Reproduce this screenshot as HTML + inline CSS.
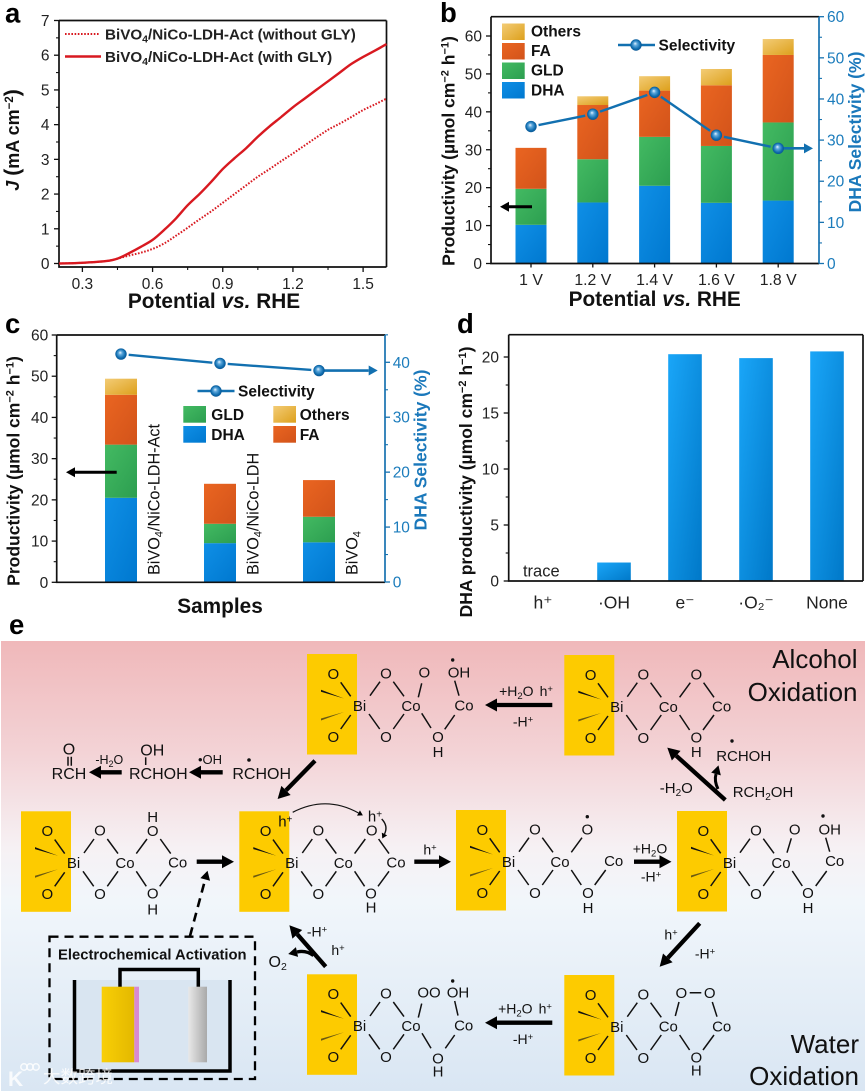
<!DOCTYPE html>
<html lang="en">
<head>
<meta charset="utf-8">
<title>BiVO4/NiCo-LDH figure</title>
<style>
html,body{margin:0;padding:0;background:#fff;}
svg{display:block;font-family:"Liberation Sans","Noto Sans CJK SC",sans-serif;}
.letter{font-size:27.5px;font-weight:700;fill:#000;}
.title{font-size:20.8px;font-weight:700;fill:#111;}
.ytitle{font-size:17.5px;font-weight:700;fill:#111;}
.rtitle{font-size:17.5px;font-weight:700;fill:#1a78bb;}
.leg{font-size:15.5px;font-weight:700;fill:#111;}
.atom{font-size:15px;fill:#111;text-anchor:middle;}
.lab{font-size:14px;fill:#111;text-anchor:middle;}
.big{font-size:16px;fill:#111;text-anchor:middle;}
.region{font-size:26px;fill:#111;text-anchor:end;}
.bond{stroke:#111;stroke-width:1.5;fill:none;}
.arrow{stroke:#000;stroke-width:4.3;fill:none;}
.yel{fill:#fdcb00;}
.dot{fill:#111;}
</style>
</head>
<body>
<svg id="figure" xmlns="http://www.w3.org/2000/svg" width="866" height="1092" viewBox="0 0 866 1092">
<defs>
<marker id="head" markerUnits="userSpaceOnUse" orient="auto" markerWidth="12" markerHeight="13" refX="0" refY="6.5" overflow="visible"><path d="M0 0L12 6.5L0 13z" fill="#000"/></marker>
<marker id="headS" markerUnits="userSpaceOnUse" orient="auto" markerWidth="9" markerHeight="10" refX="0" refY="5" overflow="visible"><path d="M0 0L9 5L0 10z" fill="#000"/></marker>
<marker id="headT" markerUnits="userSpaceOnUse" orient="auto" markerWidth="5" markerHeight="6" refX="0" refY="3" overflow="visible"><path d="M0 0L5 3L0 6z" fill="#000"/></marker>
<marker id="headB" markerUnits="userSpaceOnUse" orient="auto" markerWidth="9" markerHeight="10" refX="0" refY="5" overflow="visible"><path d="M0 0L9 5L0 10z" fill="#1270b0"/></marker>
<linearGradient id="gDHA" x1="0" y1="0" x2="1" y2="1"><stop offset="0" stop-color="#0f8fe6"/><stop offset="1" stop-color="#0078cf"/></linearGradient>
<linearGradient id="gGLD" x1="0" y1="0" x2="1" y2="1"><stop offset="0" stop-color="#43ba62"/><stop offset="1" stop-color="#2c9e50"/></linearGradient>
<linearGradient id="gFA" x1="0" y1="0" x2="1" y2="1"><stop offset="0" stop-color="#ea6521"/><stop offset="1" stop-color="#d2531a"/></linearGradient>
<linearGradient id="gOT" x1="0" y1="0" x2="1" y2="1"><stop offset="0" stop-color="#f3cc76"/><stop offset="1" stop-color="#dda01c"/></linearGradient>
<linearGradient id="gD" x1="0" y1="0" x2="1" y2="1"><stop offset="0" stop-color="#1aa6f8"/><stop offset="1" stop-color="#0078c8"/></linearGradient>
<radialGradient id="gBall" cx="0.5" cy="0.5" r="0.55" fx="0.42" fy="0.36"><stop offset="0" stop-color="#e8f4ff"/><stop offset="0.3" stop-color="#5da8dc"/><stop offset="0.72" stop-color="#0e6cae"/><stop offset="1" stop-color="#0a4f8a"/></radialGradient>
<linearGradient id="gBg" x1="0" y1="0" x2="0" y2="1"><stop offset="0" stop-color="#f0b8ba"/><stop offset="0.25" stop-color="#f3d3d6"/><stop offset="0.46" stop-color="#f6f1f4"/><stop offset="0.58" stop-color="#f1f6fb"/><stop offset="1" stop-color="#d9e6f3"/></linearGradient>
<linearGradient id="gYel" x1="0" y1="0" x2="1" y2="0"><stop offset="0" stop-color="#f9cf06"/><stop offset="1" stop-color="#e3b800"/></linearGradient>
<linearGradient id="gGrey" x1="0" y1="0" x2="1" y2="0"><stop offset="0" stop-color="#e8e8e8"/><stop offset="1" stop-color="#a9a9a9"/></linearGradient>
</defs>

<!-- Panel letters -->
<text class="letter" x="5" y="22.5">a</text>
<text class="letter" x="440" y="22">b</text>
<text class="letter" x="5" y="333">c</text>
<text class="letter" x="457" y="333">d</text>
<text class="letter" x="9" y="634">e</text>

<!-- Panel a static -->
<g id="panelA"></g>
<g>
<line x1="65" y1="34" x2="99" y2="34" stroke="#d81920" stroke-width="2" stroke-dasharray="1.6 1.6"/>
<text x="105" y="39.5" font-size="15.2" font-weight="700" fill="#222">BiVO<tspan dy="3" font-size="10.5">4</tspan><tspan dy="-3">/NiCo-LDH-Act (without GLY)</tspan></text>
<line x1="65" y1="56.5" x2="101" y2="56.5" stroke="#d81920" stroke-width="2.6"/>
<text x="105" y="62" font-size="15.2" font-weight="700" fill="#222">BiVO<tspan dy="3" font-size="10.5">4</tspan><tspan dy="-3">/NiCo-LDH-Act (with GLY)</tspan></text>
</g>
<text class="title" x="214" y="308" text-anchor="middle">Potential <tspan font-style="italic">vs.</tspan> RHE</text>
<text class="ytitle" transform="translate(19,140) rotate(-90)" text-anchor="middle" style="font-size:18px"><tspan font-style="italic">J</tspan> <tspan style="font-size:21px">(</tspan>mA cm<tspan dy="-6" style="font-size:11.5px">−2</tspan><tspan dy="6" style="font-size:21px">)</tspan></text>

<!-- Panel b static -->
<g id="panelB"></g>
<g>
<rect x="502" y="23.5" width="22.7" height="16.5" fill="url(#gOT)"/>
<text class="leg" x="531" y="36.5">Others</text>
<rect x="502" y="43" width="22.7" height="16.5" fill="url(#gFA)"/>
<text class="leg" x="531" y="56">FA</text>
<rect x="502" y="62.5" width="22.7" height="16.5" fill="url(#gGLD)"/>
<text class="leg" x="531" y="75.5">GLD</text>
<rect x="502" y="82" width="22.7" height="16.5" fill="url(#gDHA)"/>
<text class="leg" x="531" y="95.5">DHA</text>
<line x1="618" y1="45" x2="655" y2="45" stroke="#1270b0" stroke-width="2.4"/>
<circle cx="636" cy="45" r="5.7" fill="url(#gBall)"/>
<text class="leg" x="658.5" y="50.5">Selectivity</text>
</g>
<line x1="532" y1="206.7" x2="509" y2="206.7" stroke="#000" stroke-width="3" marker-end="url(#headS)"/>
<text class="title" x="654.7" y="306" text-anchor="middle">Potential <tspan font-style="italic">vs.</tspan> RHE</text>
<text class="ytitle" transform="translate(454.5,151) rotate(-90)" text-anchor="middle">Productivity (µmol cm<tspan dy="-6" style="font-size:11px">−2</tspan><tspan dy="6"> h</tspan><tspan dy="-6" style="font-size:11px">−1</tspan><tspan dy="6">)</tspan></text>
<text class="rtitle" transform="translate(861,132) rotate(-90)" text-anchor="middle">DHA Selectivity (%)</text>

<!-- Panel c static -->
<g id="panelC"></g>
<g>
<line x1="197.5" y1="391" x2="234.5" y2="391" stroke="#1270b0" stroke-width="2.4"/>
<circle cx="216" cy="391" r="5.7" fill="url(#gBall)"/>
<text class="leg" x="238" y="396.5">Selectivity</text>
<rect x="183.3" y="406" width="22.7" height="16.7" fill="url(#gGLD)"/>
<text class="leg" x="211.3" y="420">GLD</text>
<rect x="183.3" y="426" width="22.7" height="16.7" fill="url(#gDHA)"/>
<text class="leg" x="211.3" y="440">DHA</text>
<rect x="273.3" y="406" width="22.7" height="16.7" fill="url(#gOT)"/>
<text class="leg" x="299.7" y="420">Others</text>
<rect x="273.3" y="426" width="22.7" height="16.7" fill="url(#gFA)"/>
<text class="leg" x="299.7" y="440">FA</text>
</g>
<line x1="116.7" y1="472.3" x2="75" y2="472.3" stroke="#000" stroke-width="3" marker-end="url(#headS)"/>
<text class="title" x="220" y="613" text-anchor="middle">Samples</text>
<text class="ytitle" transform="translate(19.5,471) rotate(-90)" text-anchor="middle">Productivity (µmol cm<tspan dy="-6" style="font-size:11px">−2</tspan><tspan dy="6"> h</tspan><tspan dy="-6" style="font-size:11px">−1</tspan><tspan dy="6">)</tspan></text>
<text class="rtitle" transform="translate(426.5,450) rotate(-90)" text-anchor="middle">DHA Selectivity (%)</text>

<!-- Panel d static -->
<g id="panelD"></g>
<text class="ytitle" transform="translate(472,482) rotate(-90)" text-anchor="middle">DHA productivity (µmol cm<tspan dy="-6" style="font-size:11px">−2</tspan><tspan dy="6"> h</tspan><tspan dy="-6" style="font-size:11px">−1</tspan><tspan dy="6">)</tspan></text>

<!-- Panel e: mechanism scheme -->
<g>
<rect x="1" y="641" width="864" height="450" fill="url(#gBg)"/>
<text class="region" x="857.5" y="668">Alcohol</text>
<text class="region" x="857.5" y="701">Oxidation</text>
<text class="region" x="859" y="1053">Water</text>
<text class="region" x="859" y="1085">Oxidation</text>

<!-- Molecule A -->
<g transform="translate(307,654)">
<rect class="yel" x="0" y="0" width="50" height="100.5"/>
<path class="bond" d="M33.7 28.3L43.7 42.3M43.7 61L33.7 75M63 41.7L73 27.7M86.3 27.7L97 42.3M62 60L72.7 75M86.3 75L97 60M111.3 43.3L114.7 29.3M147.7 26.7L152 41.7M114.7 59.3L124 74M137.7 75.3L147.7 61"/>
<polygon points="14,35.8 14,37.8 37,44.5" fill="#111"/><polygon points="14,64.5 14,66.5 37,58" fill="#6b5a12"/>
<text class="atom" x="26.3" y="24.9">O</text><text class="atom" x="26.3" y="87.9">O</text><text class="atom" x="52.5" y="56.9">Bi</text><text class="atom" x="79" y="24.4">O</text><text class="atom" x="79" y="87.9">O</text><text class="atom" x="104" y="56.9">Co</text><text class="atom" x="117.3" y="23.7">O</text><text class="atom" x="152" y="23.7">OH</text><circle class="dot" cx="145.7" cy="6" r="1.7"/><text class="atom" x="157" y="56.4">Co</text><text class="atom" x="131" y="88.1">O</text><text class="atom" x="131" y="103.1">H</text>
</g>

<!-- Molecule B -->
<g transform="translate(564.3,655)">
<rect class="yel" x="0" y="0" width="50" height="100.5"/>
<path class="bond" d="M33.7 28.3L43.7 42.3M43.7 61L33.7 75M63 41.7L73 27.7M86.3 27.7L97 42.3M62 60L72.7 75M86.3 75L97 60M115.3 42.3L126 27.7M139.3 27.7L149.7 42.3M115.3 60L125.3 75M138.7 75L149.7 60"/>
<polygon points="14,35.8 14,37.8 37,44.5" fill="#111"/><polygon points="14,64.5 14,66.5 37,58" fill="#6b5a12"/>
<text class="atom" x="26.3" y="24.9">O</text><text class="atom" x="26.3" y="87.9">O</text><text class="atom" x="52.5" y="56.9">Bi</text><text class="atom" x="79" y="24.4">O</text><text class="atom" x="79" y="87.9">O</text><text class="atom" x="104" y="56.9">Co</text><text class="atom" x="132" y="24.4">O</text><text class="atom" x="157.3" y="56.4">Co</text><text class="atom" x="132" y="87.7">O</text><text class="atom" x="132" y="102.1">H</text>
</g>

<!-- Molecule C -->
<g transform="translate(21,811.3)">
<rect class="yel" x="0" y="0" width="50" height="100.5"/>
<path class="bond" d="M33.7 28.3L43.7 42.3M43.7 61L33.7 75M63 41.7L73 27.7M86.3 27.7L97 42.3M62 60L72.7 75M86.3 75L97 60M115.3 42.3L126 27.7M139.3 27.7L149.7 42.3M115.3 60L125.3 75M138.7 75L149.7 60"/>
<polygon points="14,35.8 14,37.8 37,44.5" fill="#111"/><polygon points="14,64.5 14,66.5 37,58" fill="#6b5a12"/>
<text class="atom" x="26.3" y="24.9">O</text><text class="atom" x="26.3" y="87.9">O</text><text class="atom" x="52.5" y="56.9">Bi</text><text class="atom" x="79" y="24.4">O</text><text class="atom" x="79" y="87.9">O</text><text class="atom" x="104" y="56.9">Co</text><text class="atom" x="131.7" y="10.8">H</text><text class="atom" x="131.7" y="24.8">O</text><text class="atom" x="156.7" y="56.1">Co</text><text class="atom" x="131.7" y="87.4">O</text><text class="atom" x="131.7" y="103.1">H</text>
</g>

<!-- Molecule D -->
<g transform="translate(239.3,811.3)">
<rect class="yel" x="0" y="0" width="50" height="100.5"/>
<path class="bond" d="M33.7 28.3L43.7 42.3M43.7 61L33.7 75M63 41.7L73 27.7M86.3 27.7L97 42.3M62 60L72.7 75M86.3 75L97 60M115.3 42.3L126 27.7M139.3 27.7L149.7 42.3M115.3 60L125.3 75M138.7 75L149.7 60"/>
<polygon points="14,35.8 14,37.8 37,44.5" fill="#111"/><polygon points="14,64.5 14,66.5 37,58" fill="#6b5a12"/>
<text class="atom" x="26.3" y="24.9">O</text><text class="atom" x="26.3" y="87.9">O</text><text class="atom" x="52.5" y="56.9">Bi</text><text class="atom" x="79" y="24.4">O</text><text class="atom" x="79" y="87.9">O</text><text class="atom" x="104" y="56.9">Co</text><text class="atom" x="132.4" y="24.1">O</text><text class="atom" x="156.7" y="56.1">Co</text><text class="atom" x="131.7" y="87.4">O</text><text class="atom" x="131.7" y="101.4">H</text>
<text class="lab" x="46" y="15" style="font-size:15px">h<tspan dy="-4" style="font-size:10px">+</tspan></text>
<text class="lab" x="135.7" y="10" style="font-size:15px">h<tspan dy="-4" style="font-size:10px">+</tspan></text>
</g>
<path d="M292.7 812.3Q326 795 358.5 813" fill="none" stroke="#111" stroke-width="1.2" marker-end="url(#headT)"/>
<path d="M381.7 819Q388.5 826 384.5 834" fill="none" stroke="#111" stroke-width="1.4" marker-end="url(#headT)"/>

<!-- Molecule E -->
<g transform="translate(456,810)">
<rect class="yel" x="0" y="0" width="50" height="100.5"/>
<path class="bond" d="M33.7 28.3L43.7 42.3M43.7 61L33.7 75M63 41.7L73 27.7M86.3 27.7L97 42.3M62 60L72.7 75M86.3 75L97 60M115.3 42.3L126 27.7M115.3 60L125.3 75M138.7 75L149.7 60"/>
<polygon points="14,35.8 14,37.8 37,44.5" fill="#111"/><polygon points="14,64.5 14,66.5 37,58" fill="#6b5a12"/>
<text class="atom" x="26.3" y="24.9">O</text><text class="atom" x="26.3" y="87.9">O</text><text class="atom" x="52.5" y="56.9">Bi</text><text class="atom" x="79" y="24.4">O</text><text class="atom" x="79" y="87.9">O</text><text class="atom" x="104" y="56.9">Co</text><text class="atom" x="131.3" y="24.7">O</text><circle class="dot" cx="131.3" cy="6.7" r="1.7"/><text class="atom" x="157.7" y="56.1">Co</text><text class="atom" x="132" y="88.1">O</text><text class="atom" x="132" y="103.1">H</text>
</g>

<!-- Molecule F -->
<g transform="translate(677,811)">
<rect class="yel" x="0" y="0" width="50" height="100.5"/>
<path class="bond" d="M33.7 28.3L43.7 42.3M43.7 61L33.7 75M63 41.7L73 27.7M86.3 27.7L97 42.3M62 60L72.7 75M86.3 75L97 60M110 41.7L114.3 27.3M148.7 26.7L152.7 40.7M115.3 60L125.3 75M138.7 75L149.7 60"/>
<polygon points="14,35.8 14,37.8 37,44.5" fill="#111"/><polygon points="14,64.5 14,66.5 37,58" fill="#6b5a12"/>
<text class="atom" x="26.3" y="24.9">O</text><text class="atom" x="26.3" y="87.9">O</text><text class="atom" x="52.5" y="56.9">Bi</text><text class="atom" x="79" y="24.4">O</text><text class="atom" x="79" y="87.9">O</text><text class="atom" x="104" y="56.9">Co</text><text class="atom" x="117.7" y="23.4">O</text><text class="atom" x="152.7" y="23.4">OH</text><circle class="dot" cx="146" cy="5" r="1.7"/><text class="atom" x="157.7" y="55.1">Co</text><text class="atom" x="131" y="87.1">O</text><text class="atom" x="131" y="102.1">H</text>
</g>

<!-- Molecule G -->
<g transform="translate(307,974.3)">
<rect class="yel" x="0" y="0" width="50" height="100.5"/>
<path class="bond" d="M33.7 28.3L43.7 42.3M43.7 61L33.7 75M63 41.7L73 27.7M86.3 27.7L97 42.3M62 60L72.7 75M86.3 75L97 60M111.3 43.3L114.7 29.3M147.7 26.7L151 41.3M115 59L124 74M138.3 74L147.7 60.7"/>
<polygon points="14,35.8 14,37.8 37,44.5" fill="#111"/><polygon points="14,64.5 14,66.5 37,58" fill="#6b5a12"/>
<text class="atom" x="26.3" y="24.9">O</text><text class="atom" x="26.3" y="87.9">O</text><text class="atom" x="52.5" y="56.9">Bi</text><text class="atom" x="79" y="24.4">O</text><text class="atom" x="79" y="87.9">O</text><text class="atom" x="104" y="56.9">Co</text><text class="atom" x="122" y="23.4">OO</text><text class="atom" x="151" y="23.4">OH</text><circle class="dot" cx="145.7" cy="6.7" r="1.7"/><text class="atom" x="156.7" y="56.1">Co</text><text class="atom" x="131" y="89.4">O</text><text class="atom" x="131" y="102.1">H</text>
</g>

<!-- Molecule H -->
<g transform="translate(564.3,975)">
<rect class="yel" x="0" y="0" width="50" height="100.5"/>
<path class="bond" d="M33.7 28.3L43.7 42.3M43.7 61L33.7 75M63 41.7L73 27.7M86.3 27.7L97 42.3M62 60L72.7 75M86.3 75L97 60M111 41L114.7 27M125.4 17.7L137 17.7M148 27L152.7 41.7M115.3 60L125.3 75M138.7 75L149.7 60"/>
<polygon points="14,35.8 14,37.8 37,44.5" fill="#111"/><polygon points="14,64.5 14,66.5 37,58" fill="#6b5a12"/>
<text class="atom" x="26.3" y="24.9">O</text><text class="atom" x="26.3" y="87.9">O</text><text class="atom" x="52.5" y="56.9">Bi</text><text class="atom" x="79" y="24.4">O</text><text class="atom" x="79" y="87.9">O</text><text class="atom" x="104" y="56.4">Co</text><text class="atom" x="117" y="23.1">O</text><text class="atom" x="145.4" y="23.1">O</text><text class="atom" x="157.4" y="56.4">Co</text><text class="atom" x="132" y="87.7">O</text><text class="atom" x="132" y="100.4">H</text>
</g>

<!-- Reaction arrows -->
<line class="arrow" x1="552.3" y1="705" x2="497" y2="705" marker-end="url(#head)"/>
<text class="lab" x="526" y="696">+H<tspan dy="3" style="font-size:9.5px">2</tspan><tspan dy="-3">O</tspan><tspan dx="6">h</tspan><tspan dy="-4" style="font-size:9.5px">+</tspan></text>
<text class="lab" x="523" y="726.5">-H<tspan dy="-4" style="font-size:9.5px">+</tspan></text>
<line class="arrow" x1="315" y1="760.7" x2="286" y2="790.4" marker-end="url(#head)"/>
<text class="big" x="261.7" y="779">RCHOH</text>
<circle class="dot" cx="249" cy="760" r="1.8"/>
<line class="arrow" x1="222.7" y1="772.3" x2="201" y2="772.3" marker-end="url(#head)"/>
<text class="lab" x="210" y="764" style="font-size:13px">•OH</text>
<text class="big" x="158.3" y="779">RCHOH</text>
<text class="big" x="152.3" y="755.5">OH</text>
<line class="bond" x1="145.7" y1="757.3" x2="145.7" y2="765"/>
<line class="arrow" x1="121.7" y1="772.3" x2="101" y2="772.3" marker-end="url(#head)"/>
<text class="lab" x="109.3" y="764" style="font-size:12.5px">-H<tspan dy="3" style="font-size:9px">2</tspan><tspan dy="-3">O</tspan></text>
<text class="big" x="69" y="779">RCH</text>
<text class="big" x="69" y="754.7">O</text>
<path class="bond" d="M68 756.7V765.7M71.3 756.7V765.7"/>

<line class="arrow" x1="196.7" y1="861.7" x2="222" y2="861.7" marker-end="url(#head)"/>
<line class="arrow" x1="414.3" y1="861.7" x2="439" y2="861.7" marker-end="url(#head)"/>
<text class="lab" x="430" y="854.5">h<tspan dy="-4" style="font-size:9.5px">+</tspan></text>
<line class="arrow" x1="634" y1="861.7" x2="659.5" y2="861.7" marker-end="url(#head)"/>
<text class="lab" x="650" y="853.5">+H<tspan dy="3" style="font-size:9.5px">2</tspan><tspan dy="-3">O</tspan></text>
<text class="lab" x="651" y="881.5">-H<tspan dy="-4" style="font-size:9.5px">+</tspan></text>
<line class="arrow" x1="699.7" y1="923.3" x2="667.8" y2="957.9" marker-end="url(#head)"/>
<text class="lab" x="671" y="939.5">h<tspan dy="-4" style="font-size:9.5px">+</tspan></text>
<text class="lab" x="705" y="958.5">-H<tspan dy="-4" style="font-size:9.5px">+</tspan></text>
<line class="arrow" x1="552.3" y1="1022.7" x2="497" y2="1022.7" marker-end="url(#head)"/>
<text class="lab" x="525" y="1013.5">+H<tspan dy="3" style="font-size:9.5px">2</tspan><tspan dy="-3">O</tspan><tspan dx="6">h</tspan><tspan dy="-4" style="font-size:9.5px">+</tspan></text>
<text class="lab" x="523" y="1044">-H<tspan dy="-4" style="font-size:9.5px">+</tspan></text>
<line class="arrow" x1="325.7" y1="966.7" x2="297.3" y2="934.3" marker-end="url(#head)"/>
<path d="M313.5 955.5Q306 950 297 952" fill="none" stroke="#000" stroke-width="3.4" marker-end="url(#headS)"/>
<text class="lab" x="317" y="936.5">-H<tspan dy="-4" style="font-size:9.5px">+</tspan></text>
<text class="lab" x="338" y="955">h<tspan dy="-4" style="font-size:9.5px">+</tspan></text>
<text class="big" x="277.7" y="967">O<tspan dy="3" style="font-size:10.5px">2</tspan></text>
<line class="arrow" x1="725.3" y1="800" x2="676.2" y2="755.7" marker-end="url(#head)"/>
<path d="M718 789Q714 781 716 774" fill="none" stroke="#000" stroke-width="3" marker-end="url(#headS)"/>
<text class="atom" x="676.3" y="793">-H<tspan dy="3" style="font-size:10px">2</tspan><tspan dy="-3">O</tspan></text>
<text class="atom" x="763" y="797">RCH<tspan dy="3" style="font-size:10px">2</tspan><tspan dy="-3">OH</tspan></text>
<text class="atom" x="743.7" y="761">RCHOH</text>
<circle class="dot" cx="732" cy="741" r="1.7"/>

<!-- Electrochemical activation inset -->
<g>
<rect x="74" y="980" width="156" height="91" fill="#d9e5f1"/>
<path d="M74.5 980V1071H230V980" fill="none" stroke="#000" stroke-width="3.5"/>
<path d="M120 987V969.5H198.3V987" fill="none" stroke="#000" stroke-width="3.5"/>
<rect x="101.7" y="986.7" width="32.6" height="75.6" fill="url(#gYel)"/>
<rect x="134.3" y="986.7" width="4.7" height="75.6" fill="#d98ad0"/>
<rect x="188.3" y="986.7" width="18.7" height="75.6" fill="url(#gGrey)"/>
<rect x="49.5" y="936.7" width="205.5" height="142.3" fill="none" stroke="#000" stroke-width="2.3" stroke-dasharray="9 6"/>
<text x="152.3" y="959.5" text-anchor="middle" font-size="14.8" font-weight="700" fill="#111">Electrochemical Activation</text>
<line x1="190" y1="936" x2="205.2" y2="879.4" stroke="#000" stroke-width="2.6" stroke-dasharray="9 6" marker-end="url(#headS)"/>
</g>

<!-- Watermark -->
<g fill="#fff" fill-opacity="0.82">
<text x="8" y="1086" font-size="21" font-weight="700">K</text>
<circle cx="24" cy="1067" r="3.2" fill="none" stroke="#fff" stroke-opacity="0.82" stroke-width="1.5"/>
<circle cx="30" cy="1067" r="3.2" fill="none" stroke="#fff" stroke-opacity="0.82" stroke-width="1.5"/>
<circle cx="36" cy="1067" r="3.2" fill="none" stroke="#fff" stroke-opacity="0.82" stroke-width="1.5"/>
<text x="43" y="1083" font-size="17.5" style="font-family:'Noto Sans CJK SC',sans-serif">大数跨境</text>
</g>
</g>

<script>
// ===== Panel a data =====
const aPotential = [0.2,0.3,0.4,0.45,0.5,0.55,0.6,0.65,0.7,0.75,0.8,0.85,0.9,0.95,1.0,1.05,1.1,1.15,1.2,1.25,1.3,1.35,1.4,1.45,1.5,1.55,1.6];
const aWithGly = [0.0,0.02,0.07,0.14,0.3,0.48,0.68,0.97,1.3,1.68,2.0,2.35,2.72,3.03,3.32,3.65,3.95,4.22,4.5,4.75,5.0,5.25,5.5,5.75,5.95,6.13,6.32];
const aWithoutGly = [0.0,0.02,0.07,0.14,0.23,0.31,0.42,0.58,0.8,1.03,1.27,1.5,1.75,2.0,2.25,2.5,2.72,2.95,3.17,3.4,3.63,3.85,4.03,4.22,4.42,4.58,4.75];
const aXTicks = [0.3,0.6,0.9,1.2,1.5];
const aXTickLabels = ['0.3','0.6','0.9','1.2','1.5'];
const aYTicks = [0,1,2,3,4,5,6,7];

// ===== Panel b data =====
const bCategories = ['1 V','1.2 V','1.4 V','1.6 V','1.8 V'];
const bDHA = [10.2,16.1,20.5,16.0,16.6];
const bGLD = [9.5,11.4,12.9,15.0,20.6];
const bFA = [10.8,14.3,12.2,16.0,17.8];
const bOthers = [0,2.3,3.8,4.3,4.2];
const bSelectivity = [33.3,36.3,41.6,31.2,28.0];
const bLeftTicks = [0,10,20,30,40,50,60];
const bRightTicks = [0,10,20,30,40,50,60];

// ===== Panel c data =====
const cCategories = ['BiVO4/NiCo-LDH-Act','BiVO4/NiCo-LDH','BiVO4'];
const cDHA = [20.5,9.5,9.7];
const cGLD = [12.9,4.7,6.2];
const cFA = [12.1,9.7,8.9];
const cOthers = [3.9,0,0];
const cSelectivity = [41.5,39.8,38.5];
const cLeftTicks = [0,10,20,30,40,50,60];
const cRightTicks = [0,10,20,30,40];

// ===== Panel d data =====
const dCategories = ['h⁺','·OH','e⁻','·O₂⁻','None'];
const dValues = [0,1.65,20.25,19.9,20.5];
const dTicks = [0,5,10,15,20];

const NS = 'http://www.w3.org/2000/svg';
const TICK_COLOR = '#111';
const RIGHT_COLOR = '#1772b0';
const RIGHT_TEXT = '#1b7cbc';

function linear(d0, d1, r0, r1) {
  return v => r0 + (v - d0) * (r1 - r0) / (d1 - d0);
}
function band(n, first, step) {
  return i => first + i * step;
}
function make(parent, tag, attrs, text) {
  const node = document.createElementNS(NS, tag);
  for (const k in attrs) node.setAttribute(k, attrs[k]);
  if (text !== undefined) node.textContent = text;
  parent.appendChild(node);
  return node;
}
function midpoints(ticks, extra) {
  const out = [];
  for (let i = 0; i < ticks.length - 1; i++) out.push((ticks[i] + ticks[i + 1]) / 2);
  if (extra !== undefined) out.push(extra);
  return out;
}
function smoothPath(xs, ys) {
  let d = 'M' + xs[0].toFixed(1) + ' ' + ys[0].toFixed(1);
  for (let i = 0; i < xs.length - 1; i++) {
    const p = Math.max(i - 1, 0), n = Math.min(i + 2, xs.length - 1);
    const c1x = xs[i] + (xs[i + 1] - xs[p]) / 6, c1y = ys[i] + (ys[i + 1] - ys[p]) / 6;
    const c2x = xs[i + 1] - (xs[n] - xs[i]) / 6, c2y = ys[i + 1] - (ys[n] - ys[i]) / 6;
    d += 'C' + c1x.toFixed(1) + ' ' + c1y.toFixed(1) + ' ' + c2x.toFixed(1) + ' ' + c2y.toFixed(1) + ' ' + xs[i + 1].toFixed(1) + ' ' + ys[i + 1].toFixed(1);
  }
  return d;
}
function frame(g, L, R, T, B, rightColor) {
  const f = make(g, 'path', {d: `M${L} ${T}H${R}M${L} ${T}V${B}H${R}`, fill: 'none', stroke: '#111', 'stroke-width': 1.7});
  
  
  const r = make(g, 'line', {x1: R, x2: R, y1: T, y2: B, stroke: rightColor, 'stroke-width': 1.7});
  
  
}
function yAxis(g, ticks, scale, x, dir, color, textColor, labels, textX, minor) {
  ticks.forEach((t, i) => {
    const ln = make(g, 'line', {x1: x, x2: x + dir * 5, y1: scale(t), y2: scale(t), stroke: color, 'stroke-width': 1.3});
    
    
    const tx = make(g, 'text', {x: textX, y: scale(t) + 5.5, 'font-size': 15.5, fill: textColor, 'text-anchor': dir < 0 ? 'end' : 'start'}, labels ? labels[i] : String(t));
    
    
  });
  minor.forEach(t => {
    const ln = make(g, 'line', {x1: x, x2: x + dir * 3, y1: scale(t), y2: scale(t), stroke: color, 'stroke-width': 1.1});
    
    
  });
}
function stackedBars(g, series, gradients, names, xPos, width, scale) {
  const n = series[0].length;
  for (let i = 0; i < n; i++) {
    let base = 0;
    series.forEach((s, k) => {
      if (s[i] > 0) {
        const rc = make(g, 'rect', {x: xPos(i) - width / 2, y: scale(base + s[i]), width: width, height: scale(base) - scale(base + s[i]), fill: 'url(#' + gradients[k] + ')'});
        
        
      }
      base += s[i];
    });
  }
}
function selectivityLine(g, values, xPos, scale, radius, tipX) {
  const gap = radius + 2;
  for (let i = 0; i < values.length - 1; i++) {
    const x0 = xPos(i), y0 = scale(values[i]), x1 = xPos(i + 1), y1 = scale(values[i + 1]);
    const len = Math.hypot(x1 - x0, y1 - y0);
    const ux = (x1 - x0) / len, uy = (y1 - y0) / len;
    const seg = make(g, 'line', {x1: x0 + ux * gap, y1: y0 + uy * gap, x2: x1 - ux * gap, y2: y1 - uy * gap, stroke: '#1270b0', 'stroke-width': 2.4});
    
    
  }
  const last = values.length - 1;
  const tail = make(g, 'line', {x1: xPos(last), y1: scale(values[last]), x2: tipX - 9, y2: scale(values[last]), stroke: '#1270b0', 'stroke-width': 2.6, 'marker-end': 'url(#headB)'});
  
  
  values.forEach((v, i) => {
    const m = make(g, 'circle', {cx: xPos(i), cy: scale(v), r: radius, fill: 'url(#gBall)'});
    
    
  });
}

// ----- Panel a -----
(function () {
  const g = document.getElementById('panelA');
  const L = 59, R = 386.5, T = 20.5, B = 267;
  const x = linear(0.2, 1.6, 59, 386.5);
  const y = linear(0, 7, 263.5, 20.5);
  frame(g, L, R, T, B, '#111');
  yAxis(g, aYTicks, y, L, -1, TICK_COLOR, '#222', null, 49.5, midpoints(aYTicks));
  aXTicks.forEach((t, i) => {
    const ln = make(g, 'line', {x1: x(t), x2: x(t), y1: B, y2: B + 5, stroke: '#111', 'stroke-width': 1.3});
    
    
    const tx = make(g, 'text', {x: x(t), y: 289, 'font-size': 15.5, fill: '#222', 'text-anchor': 'middle'}, aXTickLabels[i]);
    
    
  });
  midpoints(aXTicks).forEach(t => {
    const ln = make(g, 'line', {x1: x(t), x2: x(t), y1: B, y2: B + 3, stroke: '#111', 'stroke-width': 1.1});
    
    
  });
  const xs = aPotential.map(x);
  const dotted = make(g, 'path', {d: smoothPath(xs, aWithoutGly.map(y)), fill: 'none', stroke: '#d81920', 'stroke-width': 2, 'stroke-dasharray': '1.6 1.6'});
  
  
  const solid = make(g, 'path', {d: smoothPath(xs, aWithGly.map(y)), fill: 'none', stroke: '#d81920', 'stroke-width': 2.4});
  
  
})();

// ----- Panel b -----
(function () {
  const g = document.getElementById('panelB');
  const L = 491, R = 819, T = 16.7, B = 263.5;
  const y = linear(0, 60, 263.5, 36);
  const yr = linear(0, 60, 263.5, 16.7);
  const x = band(bCategories.length, 531, 61.8);
  stackedBars(g, [bDHA, bGLD, bFA, bOthers], ['gDHA', 'gGLD', 'gFA', 'gOT'], ['dha', 'gld', 'fa', 'others'], x, 31, y);
  frame(g, L, R, T, B, RIGHT_COLOR);
  yAxis(g, bLeftTicks, y, L, -1, TICK_COLOR, '#222', null, 482, midpoints(bLeftTicks));
  yAxis(g, bRightTicks, yr, R, 1, RIGHT_COLOR, RIGHT_TEXT, null, 827, midpoints(bRightTicks));
  bCategories.forEach((c, i) => {
    const ln = make(g, 'line', {x1: x(i), x2: x(i), y1: B, y2: B + 4, stroke: '#111', 'stroke-width': 1.3});
    
    
    const tx = make(g, 'text', {x: x(i), y: 285, 'font-size': 15.8, fill: '#222', 'text-anchor': 'middle'}, c);
    
    
  });
  selectivityLine(g, bSelectivity, x, yr, 5.7, 813);
})();

// ----- Panel c -----
(function () {
  const g = document.getElementById('panelC');
  const L = 56.7, R = 385, T = 335, B = 582.3;
  const y = linear(0, 60, 582.3, 335);
  const yr = linear(0, 40, 582, 362.3);
  const x = band(cCategories.length, 121, 99);
  stackedBars(g, [cDHA, cGLD, cFA, cOthers], ['gDHA', 'gGLD', 'gFA', 'gOT'], ['dha', 'gld', 'fa', 'others'], x, 32, y);
  frame(g, L, R, T, B, RIGHT_COLOR);
  yAxis(g, cLeftTicks, y, L, -1, TICK_COLOR, '#222', null, 48.3, midpoints(cLeftTicks));
  yAxis(g, cRightTicks, yr, R, 1, RIGHT_COLOR, RIGHT_TEXT, null, 392.7, midpoints(cRightTicks, 45));
  cCategories.forEach((c, i) => {
    const tx = make(g, 'text', {transform: `translate(${x(i) + 38.5},575) rotate(-90)`, 'font-size': 16.2, fill: '#111'});
    
    
    const parts = c.split('4');
    make(tx, 'tspan', {}, parts[0]);
    make(tx, 'tspan', {dy: 3, 'font-size': 11}, '4');
    make(tx, 'tspan', {dy: -3}, parts[1] || '');
  });
  selectivityLine(g, cSelectivity, x, yr, 5.7, 377.7);
})();

// ----- Panel d -----
(function () {
  const g = document.getElementById('panelD');
  const L = 508.7, R = 863, T = 334.7, B = 581;
  const y = linear(0, 20, 581, 357);
  const x = band(dCategories.length, 543, 71);
  dValues.forEach((v, i) => {
    if (v > 0) {
      const rc = make(g, 'rect', {x: x(i) - 16.8, y: y(v), width: 33.6, height: y(0) - y(v), fill: 'url(#gD)'});
      
      
    }
  });
  frame(g, L, R, T, B, '#111');
  yAxis(g, dTicks, y, L, -1, TICK_COLOR, '#222', null, 499, midpoints(dTicks));
  dCategories.forEach((c, i) => {
    const tx = make(g, 'text', {x: x(i), y: 608.5, 'font-size': 17.5, fill: '#222', 'text-anchor': 'middle'}, c);
    
    
  });
  const tr = make(g, 'text', {x: 541.3, y: 576.5, 'font-size': 16.5, fill: '#222', 'text-anchor': 'middle'}, 'trace');
  
  
})();
</script>
</svg>
</body>
</html>
